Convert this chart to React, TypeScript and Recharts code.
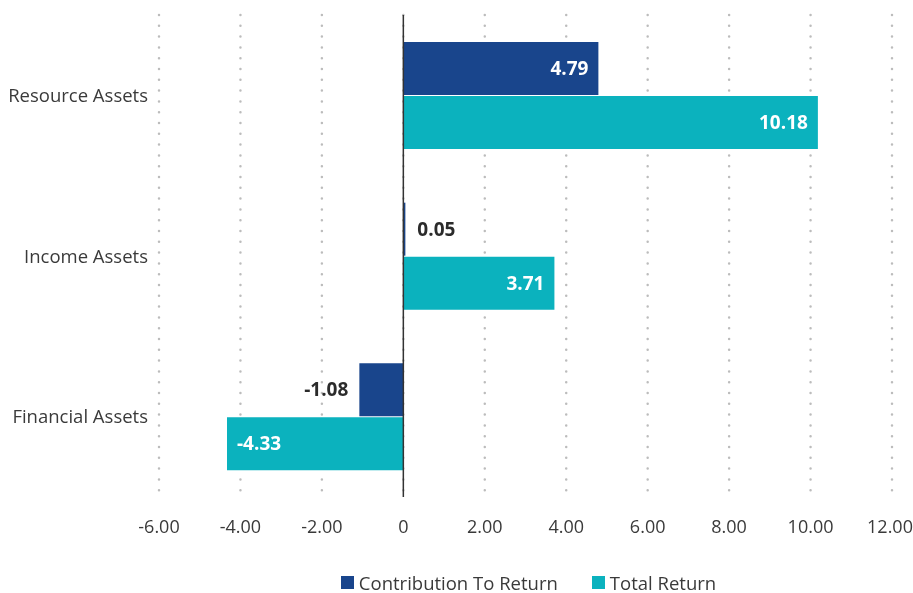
import * as React from 'react';
import {
  BarChart,
  Bar,
  XAxis,
  YAxis,
  CartesianGrid,
  ReferenceLine,
  Legend,
  LabelList,
} from 'recharts';

const categories = ['Resource Assets', 'Income Assets', 'Financial Assets'];
const contribution = [4.79, 0.05, -1.08];
const totalReturn = [10.18, 3.71, -4.33];
const xTicks = [-6, -4, -2, 0, 2, 4, 6, 8, 10, 12];

const DARK = '#19458c';
const TEAL = '#0bb2be';
const TEXT = '#3a3a3a';
const FONT = '"Open Sans", sans-serif';

const data = categories.map((name, i) => ({
  name,
  contribution: contribution[i],
  total: totalReturn[i],
}));

const fmtTick = (v: number) => (v === 0 ? '0' : v.toFixed(2));

// last label pulled in a little so it isn't cut at the window edge
const XTick = (props: any) => {
  const { x, y, payload, index } = props;
  const last = index === xTicks.length - 1;
  return (
    <text
      x={Number(x) + (last ? -2 : 0)}
      y={y}
      dy="0.71em"
      textAnchor="middle"
      fill={TEXT}
      fontSize={18}
      fontFamily={FONT}
    >
      {fmtTick(payload.value)}
    </text>
  );
};

const renderLabel = (props: any) => {
  const x = Number(props.x);
  const y = Number(props.y);
  const width = Number(props.width);
  const height = Number(props.height);
  const value = Number(props.value);
  const left = Math.min(x, x + width);
  const right = Math.max(x, x + width);
  const inside = right - left > 60;
  const cy = y + height / 2;
  let tx: number;
  let anchor: 'start' | 'end';
  if (value >= 0) {
    tx = inside ? right - 10 : right + 12;
    anchor = inside ? 'end' : 'start';
  } else {
    tx = inside ? left + 10 : left - 11;
    anchor = inside ? 'start' : 'end';
  }
  return (
    <text
      x={tx}
      y={cy}
      dy="0.35em"
      textAnchor={anchor}
      fill={inside ? '#ffffff' : '#2b2b2b'}
      fontFamily={FONT}
      fontSize={19}
      fontWeight={700}
    >
      {value.toFixed(2)}
    </text>
  );
};

const renderLegend = () => (
  <div
    style={{
      display: 'flex',
      justifyContent: 'center',
      alignItems: 'center',
      fontFamily: FONT,
      fontSize: 18.5,
      color: TEXT,
      height: 22,
      paddingLeft: 165,
    }}
  >
    <span style={{ display: 'inline-block', width: 13, height: 13, background: DARK, marginRight: 5 }} />
    <span style={{ marginRight: 34 }}>Contribution To Return</span>
    <span style={{ display: 'inline-block', width: 13, height: 13, background: TEAL, marginRight: 5 }} />
    <span>Total Return</span>
  </div>
);

export default function App() {
  return (
    <div style={{ width: 897, height: 577 }}>
      <div style={{ position: 'fixed', left: 0, top: 0, width: 913, height: 593 }}>
        <BarChart
          width={913}
          height={593}
          data={data}
          layout="vertical"
          margin={{ top: 15, right: 21, bottom: 34, left: 0 }}
          barSize={53}
          barGap={1}
        >
          <CartesianGrid
            horizontal={false}
            stroke="#bcbcbc"
            strokeWidth={2.5}
            strokeDasharray="0 10.8"
            strokeLinecap="round"
          />
          <XAxis
            type="number"
            domain={[-6, 12]}
            ticks={xTicks}
            tickFormatter={fmtTick}
            axisLine={false}
            tickLine={false}
            tickMargin={17}
            height={40}
            tick={<XTick />}
            interval={0}
          />
          <YAxis
            type="category"
            dataKey="name"
            width={159}
            axisLine={false}
            tickLine={false}
            tickMargin={5}
            tick={{ fill: TEXT, fontSize: 18.5, fontFamily: FONT }}
          />
          <Legend
            verticalAlign="bottom"
            content={renderLegend}
            wrapperStyle={{ bottom: 0, height: 22 }}
          />
          <Bar dataKey="contribution" name="Contribution To Return" fill={DARK} isAnimationActive={false}>
            <LabelList dataKey="contribution" content={renderLabel} />
          </Bar>
          <Bar dataKey="total" name="Total Return" fill={TEAL} isAnimationActive={false}>
            <LabelList dataKey="total" content={renderLabel} />
          </Bar>
          <ReferenceLine x={0} stroke="#333333" strokeWidth={1.5} />
        </BarChart>
      </div>
    </div>
  );
}
